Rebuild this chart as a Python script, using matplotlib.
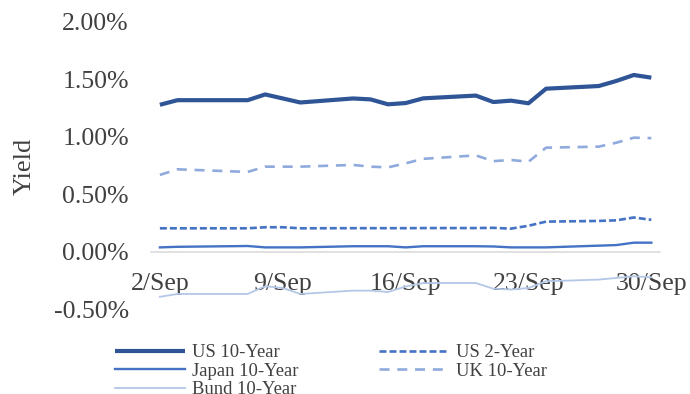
import matplotlib

matplotlib.use("Agg")
import matplotlib.pyplot as plt
import matplotlib.dates as mdates
import pandas as pd

plt.rcParams["font.family"] = ["Liberation Serif", "DejaVu Serif"]
plt.rcParams["lines.scale_dashes"] = False

# trading days shown on the chart
DATES = pd.to_datetime([
    "2021-09-02", "2021-09-03", "2021-09-07", "2021-09-08", "2021-09-09",
    "2021-09-10", "2021-09-13", "2021-09-14", "2021-09-15", "2021-09-16",
    "2021-09-17", "2021-09-20", "2021-09-21", "2021-09-22", "2021-09-23",
    "2021-09-24", "2021-09-27", "2021-09-28", "2021-09-29", "2021-09-30",
])

# yields, in percent
US_10Y = [1.28, 1.32, 1.32, 1.37, 1.335, 1.30, 1.335, 1.327, 1.284, 1.295,
          1.336, 1.36, 1.304, 1.316, 1.293, 1.42, 1.443, 1.487, 1.539, 1.516]
US_2Y = [0.206, 0.206, 0.206, 0.215, 0.215, 0.206, 0.207, 0.207, 0.207, 0.207,
         0.208, 0.208, 0.21, 0.203, 0.228, 0.264, 0.27, 0.275, 0.30, 0.28]
JAPAN_10Y = [0.04, 0.045, 0.052, 0.04, 0.04, 0.04, 0.05, 0.05, 0.05, 0.04,
             0.05, 0.05, 0.048, 0.04, 0.04, 0.04, 0.055, 0.06, 0.081, 0.081]
UK_10Y = [0.67, 0.719, 0.696, 0.742, 0.742, 0.742, 0.757, 0.742, 0.736, 0.771,
          0.81, 0.84, 0.79, 0.80, 0.785, 0.907, 0.916, 0.95, 0.994, 0.99]
BUND_10Y = [-0.39, -0.365, -0.365, -0.298, -0.313, -0.365, -0.336, -0.336,
            -0.348, -0.30, -0.27, -0.27, -0.319, -0.327, -0.313, -0.255,
            -0.24, -0.226, -0.211, -0.22]

Y_TICKS = [-0.5, 0.0, 0.5, 1.0, 1.5, 2.0]
TEXT_C = "#404040"

fig = plt.figure(figsize=(6.9, 3.94), dpi=100)
ax = fig.add_axes([0.219, 0.2145, 0.7377, 0.7297])

l_us10, = ax.plot(DATES, US_10Y, color="#2F5597", lw=3.0, solid_capstyle="butt")
l_us2, = ax.plot(DATES, US_2Y, color="#4472C4", lw=1.9, dashes=(5, 2.2))
l_jp, = ax.plot(DATES, JAPAN_10Y, color="#4472C4", lw=1.7)
l_uk, = ax.plot(DATES, UK_10Y, color="#8FAADC", lw=1.9, dashes=(7.2, 5.6))
l_bund, = ax.plot(DATES, BUND_10Y, color="#B4C7E7", lw=1.3)

x0 = mdates.date2num(DATES[0]) - 0.5
x1 = mdates.date2num(DATES[-1]) + 0.5
ax.set_xlim(x0, x1)
ax.set_ylim(-0.5, 2.0)
ax.set_yticks(Y_TICKS)
ax.set_yticklabels([f"{v:.2f}%" for v in Y_TICKS])

ax.xaxis.set_major_locator(mdates.DayLocator(bymonthday=[2, 9, 16, 23, 30]))
ax.xaxis.set_major_formatter(mdates.DateFormatter("%-d/%b"))

# horizontal axis sits on the zero line
for s in ("top", "right", "left"):
    ax.spines[s].set_visible(False)
ax.spines["bottom"].set_position(("data", 0))
ax.spines["bottom"].set_color("#D9D9D9")
ax.spines["bottom"].set_linewidth(1.1)
ax.spines["bottom"].set_zorder(0)

ax.tick_params(axis="x", length=0, pad=15, labelsize=18.5, labelcolor=TEXT_C)
ax.tick_params(axis="y", length=0, pad=16, labelsize=18.5, labelcolor=TEXT_C)

fig.text(25 / 690, 1 - 166 / 394, "Yield", rotation=90, ha="center",
         va="center", fontsize=19, color=TEXT_C)

# two-column legend, filled row by row
handles = [l_us10, l_jp, l_bund, l_us2, l_uk]
labels = ["US 10-Year", "Japan 10-Year", "Bund 10-Year", "US 2-Year",
          "UK 10-Year"]
leg = fig.legend(handles, labels, loc="upper left",
                 bbox_to_anchor=(115 / 690, 1 - 344 / 394), ncol=2,
                 frameon=False, fontsize=13.4, borderpad=0, borderaxespad=0,
                 handlelength=3.76, handletextpad=0.38, columnspacing=4.3,
                 labelspacing=0.08)
for t in leg.get_texts():
    t.set_color(TEXT_C)

fig.savefig("out.png", dpi=100)
